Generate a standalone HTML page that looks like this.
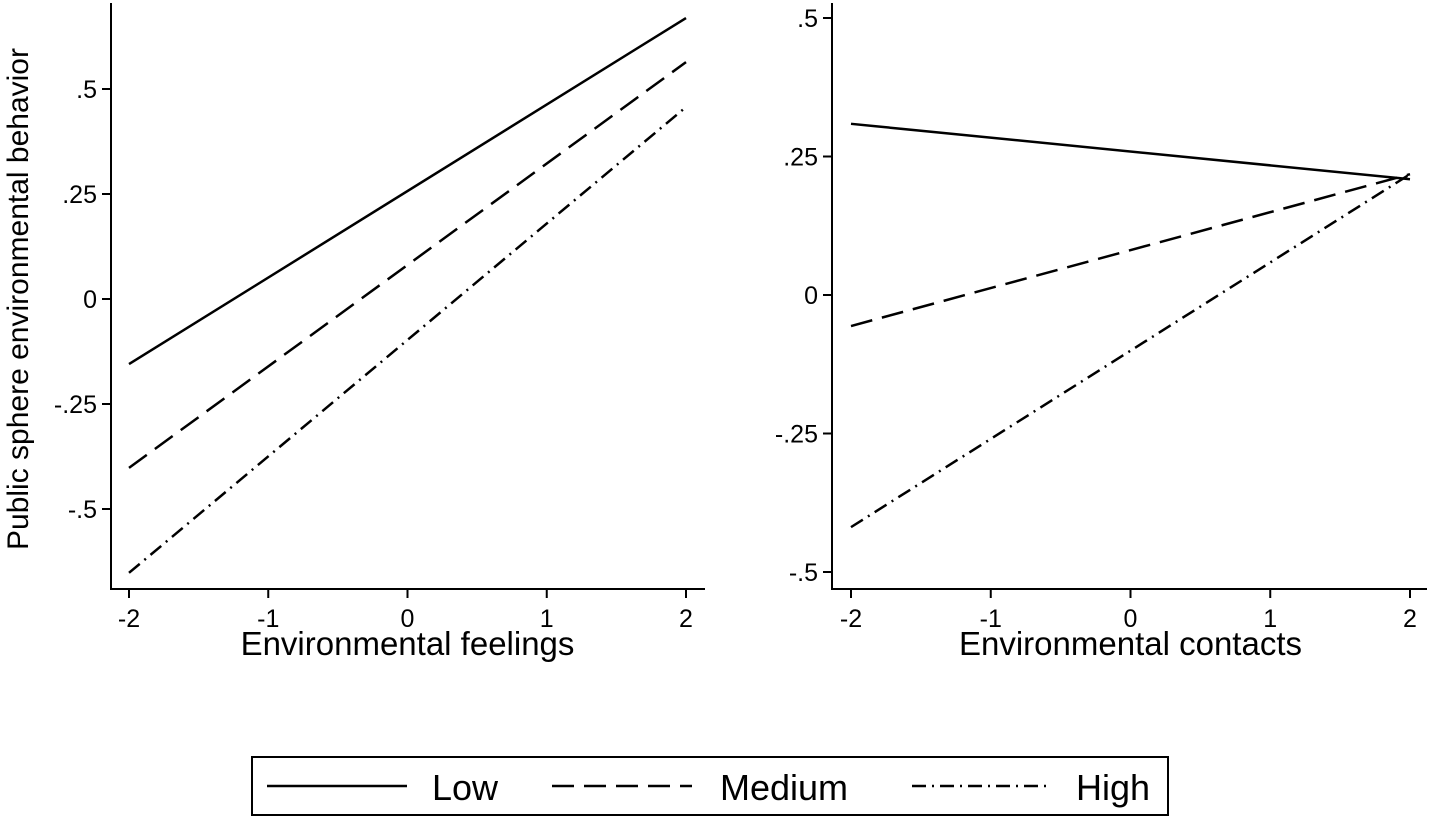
<!DOCTYPE html>
<html><head><meta charset="utf-8"><style>
body{margin:0;background:#fff}
svg{display:block;font-family:"Liberation Sans",Arial,sans-serif}
</style></head><body>
<svg width="1429" height="817" viewBox="0 0 1429 817">
<g id="root"></g>
</svg>
<script>
const xTicks=[-2,-1,0,1,2];
const leftYTicks=[-0.5,-0.25,0,0.25,0.5];
const leftYLabels=["-.5","-.25","0",".25",".5"];
const rightYTicks=[-0.5,-0.25,0,0.25,0.5];
const rightYLabels=["-.5","-.25","0",".25",".5"];
const seriesNames=["Low","Medium","High"];
const leftStart=[-0.155,-0.402,-0.652];
const leftEnd=[0.669,0.564,0.457];
const rightStart=[0.309,-0.056,-0.419];
const rightEnd=[0.209,0.218,0.218];
const dashes=["","22,10","14,6,2,6"];
const NS="http://www.w3.org/2000/svg";
const root=document.getElementById('root');
function mk(t,a,p){const e=document.createElementNS(NS,t);for(const k in a)e.setAttribute(k,a[k]);(p||root).appendChild(e);return e;}
function panel(name,ax,y0px,y0,yScale,yT,yL,starts,ends,xTitle,x0px,x1px,axisRight){
  const g=mk('g',{});
  
  
  const xs=v=>x0px+(v+2)/4*(x1px-x0px);
  const ys=v=>y0px-v*yScale;
  const a1=mk('path',{d:`M${ax},3 V589 H${axisRight}`,stroke:'#000','stroke-width':2,fill:'none'},g);
  
  xTicks.forEach(v=>{
    mk('line',{x1:xs(v),x2:xs(v),y1:589,y2:598,stroke:'#000','stroke-width':2},g);
    const t=mk('text',{x:xs(v),y:627,'text-anchor':'middle','font-size':25},g);t.textContent=v<0?'-'+Math.abs(v):v;
    
  });
  yT.forEach((v,i)=>{
    mk('line',{x1:ax-9,x2:ax,y1:ys(v),y2:ys(v),stroke:'#000','stroke-width':2},g);
    const t=mk('text',{x:ax-14,y:ys(v)+9,'text-anchor':'end','font-size':25},g);t.textContent=yL[i];
    
  });
  starts.forEach((s,i)=>{
    const l=mk('line',{x1:xs(-2),y1:ys(s),x2:xs(2),y2:ys(ends[i]),stroke:'#000','stroke-width':2.5,'stroke-dasharray':dashes[i]},g);
    
  });
  const xt=mk('text',{x:(x0px+x1px)/2,y:655,'text-anchor':'middle','font-size':33},g);xt.textContent=xTitle;
  
}
panel('left-panel',111,299,0,420,leftYTicks,leftYLabels,leftStart,leftEnd,'Environmental feelings',129,686,705);
panel('right-panel',832,295,0,554,rightYTicks,rightYLabels,rightStart,rightEnd,'Environmental contacts',851,1410,1427);
const yt=mk('text',{x:0,y:0,'text-anchor':'middle','font-size':30,transform:'translate(28,299) rotate(-90)'});
yt.textContent='Public sphere environmental behavior';


const lg=mk('g',{});


mk('rect',{x:252,y:757,width:916,height:58,fill:'#fff',stroke:'#000','stroke-width':2},lg);
const lx=[267,552,912],tx=[432,720,1076];
seriesNames.forEach((n,i)=>{
  const e=mk('g',{},lg);
  
  
  mk('line',{x1:lx[i],x2:lx[i]+140,y1:786,y2:786,stroke:'#000','stroke-width':2.5,'stroke-dasharray':dashes[i]},e);
  const t=mk('text',{x:tx[i],y:800,'font-size':36},e);t.textContent=n;
});
</script>
</body></html>
